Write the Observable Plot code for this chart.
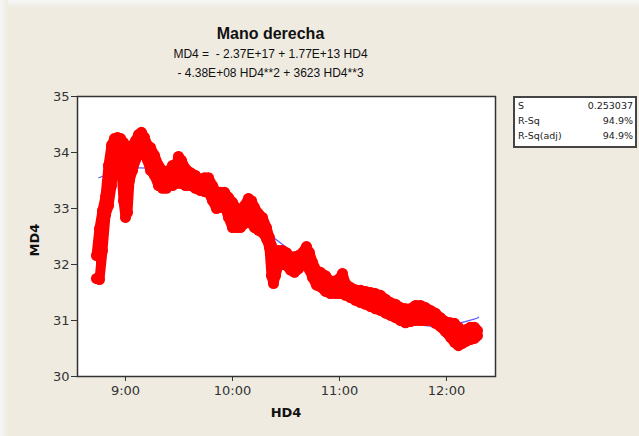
<!DOCTYPE html>
<html><head><meta charset="utf-8">
<script src="https://cdn.jsdelivr.net/npm/d3@7"></script>
<script src="https://cdn.jsdelivr.net/npm/@observablehq/plot@0.6"></script>
<style>
body{margin:0;width:639px;height:436px;overflow:hidden;background:#fff;font-family:"DejaVu Sans",sans-serif;}
#page{position:absolute;left:0;top:0;width:639px;height:436px;background:#efebe1;}
#shadeT{position:absolute;left:0;top:0;width:639px;height:8px;background:linear-gradient(#f7f7f7,#efebe1);}
#shadeL{position:absolute;left:0;top:0;width:8px;height:436px;background:linear-gradient(90deg,#f7f7f7,#efebe1);}
#chart{position:absolute;left:0;top:0;}
.t{position:absolute;left:0;width:541px;text-align:center;color:#111;white-space:nowrap;font-family:"Liberation Sans",sans-serif;}
#title{top:25px;font-weight:bold;font-size:16px;}
#sub1{top:47px;font-size:12px;}
#sub2{top:66px;font-size:12px;}
#ylab{position:absolute;left:34px;top:240px;transform:translate(-50%,-50%) rotate(-90deg);font-weight:bold;font-size:13px;color:#111;}
#xlab{position:absolute;left:286px;top:412px;transform:translate(-50%,-50%);font-weight:bold;font-size:13px;color:#111;}
#stats{position:absolute;left:513px;top:96px;width:120px;height:48px;border:2px solid #444;background:#fff;font-size:9.5px;color:#222;}
.row{position:absolute;left:3px;right:2px;height:14px;}
.row span.v{position:absolute;right:0;}
</style></head>
<body>
<div id="page"></div><div id="shadeT"></div><div id="shadeL"></div>
<div id="chart"></div>
<div class="t" id="title">Mano derecha</div>
<div class="t" id="sub1">MD4 =&nbsp; - 2.37E+17 + 1.77E+13 HD4</div>
<div class="t" id="sub2">- 4.38E+08 HD4**2 + 3623 HD4**3</div>
<div id="ylab">MD4</div>
<div id="xlab">HD4</div>
<div id="stats"></div>
<script>
// observed data band (time of day, lower and upper edge of the red scatter)
const obsTime = ["8:43:44","8:45:25","8:47:06","8:48:47","8:50:28","8:52:09","8:53:50","8:55:31","8:57:12","8:58:53",
"9:00:00","9:01:07","9:02:15","9:03:56","9:05:36","9:07:17","9:08:58","9:10:39","9:12:20","9:14:01",
"9:16:16","9:18:30","9:20:45","9:22:59","9:24:40","9:26:21","9:28:02","9:29:43","9:31:24","9:33:39",
"9:36:27","9:39:15","9:42:03","9:44:18","9:46:33","9:48:47","9:51:02","9:53:16","9:55:31","9:57:45",
"10:00:00","10:02:15","10:04:29","10:06:44","10:08:58","10:10:39","10:12:20","10:14:35","10:16:49","10:19:04",
"10:20:45","10:21:52","10:22:59","10:24:07","10:25:48","10:28:02","10:30:17","10:32:31","10:34:46","10:37:00",
"10:39:15","10:41:30","10:43:11","10:44:52","10:47:06","10:49:21","10:52:09","10:54:57","10:57:46","11:00:00",
"11:01:41","11:03:22","11:06:10","11:08:58","11:11:47","11:14:35","11:17:23","11:20:11","11:22:59","11:25:48",
"11:28:36","11:31:24","11:34:12","11:37:01","11:39:49","11:42:37","11:45:25","11:48:13","11:51:02","11:53:50",
"11:56:38","11:59:26","12:02:15","12:04:29","12:06:44","12:08:58","12:11:13","12:13:27","12:15:42","12:17:23"];
const obsHigh = [32.16,32.64,32.96,33.21,33.77,34.13,34.25,34.27,34.25,34.18,
34.07,34.04,33.95,34.13,34.21,34.32,34.36,34.27,34.13,34.09,
33.95,33.77,33.68,33.63,33.68,33.77,33.71,33.93,33.86,33.71,
33.64,33.59,33.50,33.55,33.55,33.41,33.29,33.29,33.29,33.20,
33.11,33.00,32.96,33.05,33.18,33.14,33.02,32.91,32.84,32.66,
32.48,32.34,32.25,32.21,32.25,32.25,32.21,32.13,32.14,32.16,
32.21,32.32,32.21,32.04,31.89,31.86,31.80,31.70,31.71,31.75,
31.84,31.66,31.59,31.55,31.54,31.52,31.50,31.48,31.45,31.38,
31.32,31.29,31.23,31.21,31.21,31.27,31.27,31.23,31.18,31.13,
31.05,30.98,30.96,30.95,30.88,30.82,30.84,30.88,30.88,30.82];
const obsLow = [31.75,31.73,32.25,32.88,33.05,33.41,33.86,34.04,34.00,33.14,
32.84,32.93,33.50,33.68,33.86,34.00,34.07,33.95,33.86,33.68,
33.59,33.41,33.36,33.36,33.41,33.41,33.45,33.45,33.45,33.41,
33.41,33.36,33.32,33.30,33.29,33.14,33.00,33.02,33.05,32.84,
32.66,32.66,32.66,32.73,32.79,32.73,32.66,32.61,32.57,32.46,
32.30,31.80,31.66,31.80,32.00,32.00,31.98,31.90,31.86,31.92,
32.00,32.02,31.90,31.77,31.63,31.60,31.52,31.48,31.48,31.48,
31.48,31.45,31.41,31.36,31.32,31.29,31.25,31.21,31.18,31.13,
31.09,31.05,31.00,30.96,30.98,31.00,31.00,31.00,31.00,30.95,
30.89,30.80,30.70,30.61,30.55,30.59,30.63,30.66,30.68,30.73];
// fitted cubic curve
const fitTime = ["8:45","9:00","9:15","9:30","9:45","10:00","10:15","10:30","10:45","11:00","11:15","11:30","11:45","12:00","12:15","12:18"];
const fitValue = [33.55,33.70,33.71,33.57,33.34,33.03,32.68,32.31,31.94,31.59,31.29,31.06,30.92,30.91,31.02,31.06];
const xTicks = ["9:00","10:00","11:00","12:00"];
const yTicks = [30,31,32,33,34,35];
const statLabels = ["S","R-Sq","R-Sq(adj)"];
const statValues = ["0.253037","94.9%","94.9%"];

const pS = d3.timeParse("%H:%M:%S"), pM = d3.timeParse("%H:%M");
const obs = obsTime.map((t,i)=>({t:pS(t), lo:obsLow[i], hi:obsHigh[i]}));
const fit = fitTime.map((t,i)=>({t:pM(t), v:fitValue[i]}));
const RED = "#ff0000";

const chart = Plot.plot({
  width:639, height:436,
  marginLeft:77, marginRight:144, marginTop:96, marginBottom:60,
  style:{background:"transparent", fontFamily:"DejaVu Sans, sans-serif", fontSize:"13px", color:"#333"},
  x:{type:"time", domain:[pS("8:33:05"), pS("12:27:30")]},
  y:{domain:[30,35]},
  marks:[
    Plot.frame({fill:"white"}),
    Plot.line(fit,{x:"t",y:"v",stroke:"#5c5cff",strokeWidth:1.2,curve:"natural"}),
    Plot.areaY(obs,{x:"t",y1:"lo",y2:"hi",fill:RED}),
    Plot.line(obs,{x:"t",y:"hi",stroke:RED,strokeWidth:10,strokeLinejoin:"round",strokeLinecap:"round"}),
    Plot.line(obs,{x:"t",y:"lo",stroke:RED,strokeWidth:10,strokeLinejoin:"round",strokeLinecap:"round"}),
    Plot.dot(obs,{x:"t",y:"hi",r:5.5,fill:RED}),
    Plot.dot(obs,{x:"t",y:"lo",r:5.5,fill:RED}),
    Plot.frame({stroke:"#333",strokeWidth:1.5}),
    Plot.axisX({ticks:xTicks.map(pM), tickFormat:d3.timeFormat("%-H:%M"), tickSize:5, tickPadding:4, label:null}),
    Plot.axisY({ticks:yTicks, tickFormat:d3.format("d"), tickSize:6, tickPadding:2, label:null})
  ]
});
document.getElementById("chart").appendChild(chart);
const st = document.getElementById("stats");
statLabels.forEach((l,i)=>{
  const r=document.createElement("div"); r.className="row"; r.style.top=(2+i*15)+"px";
  r.innerHTML=`<span>${l}</span><span class="v">${statValues[i]}</span>`; st.appendChild(r);
});
</script>
</body></html>
